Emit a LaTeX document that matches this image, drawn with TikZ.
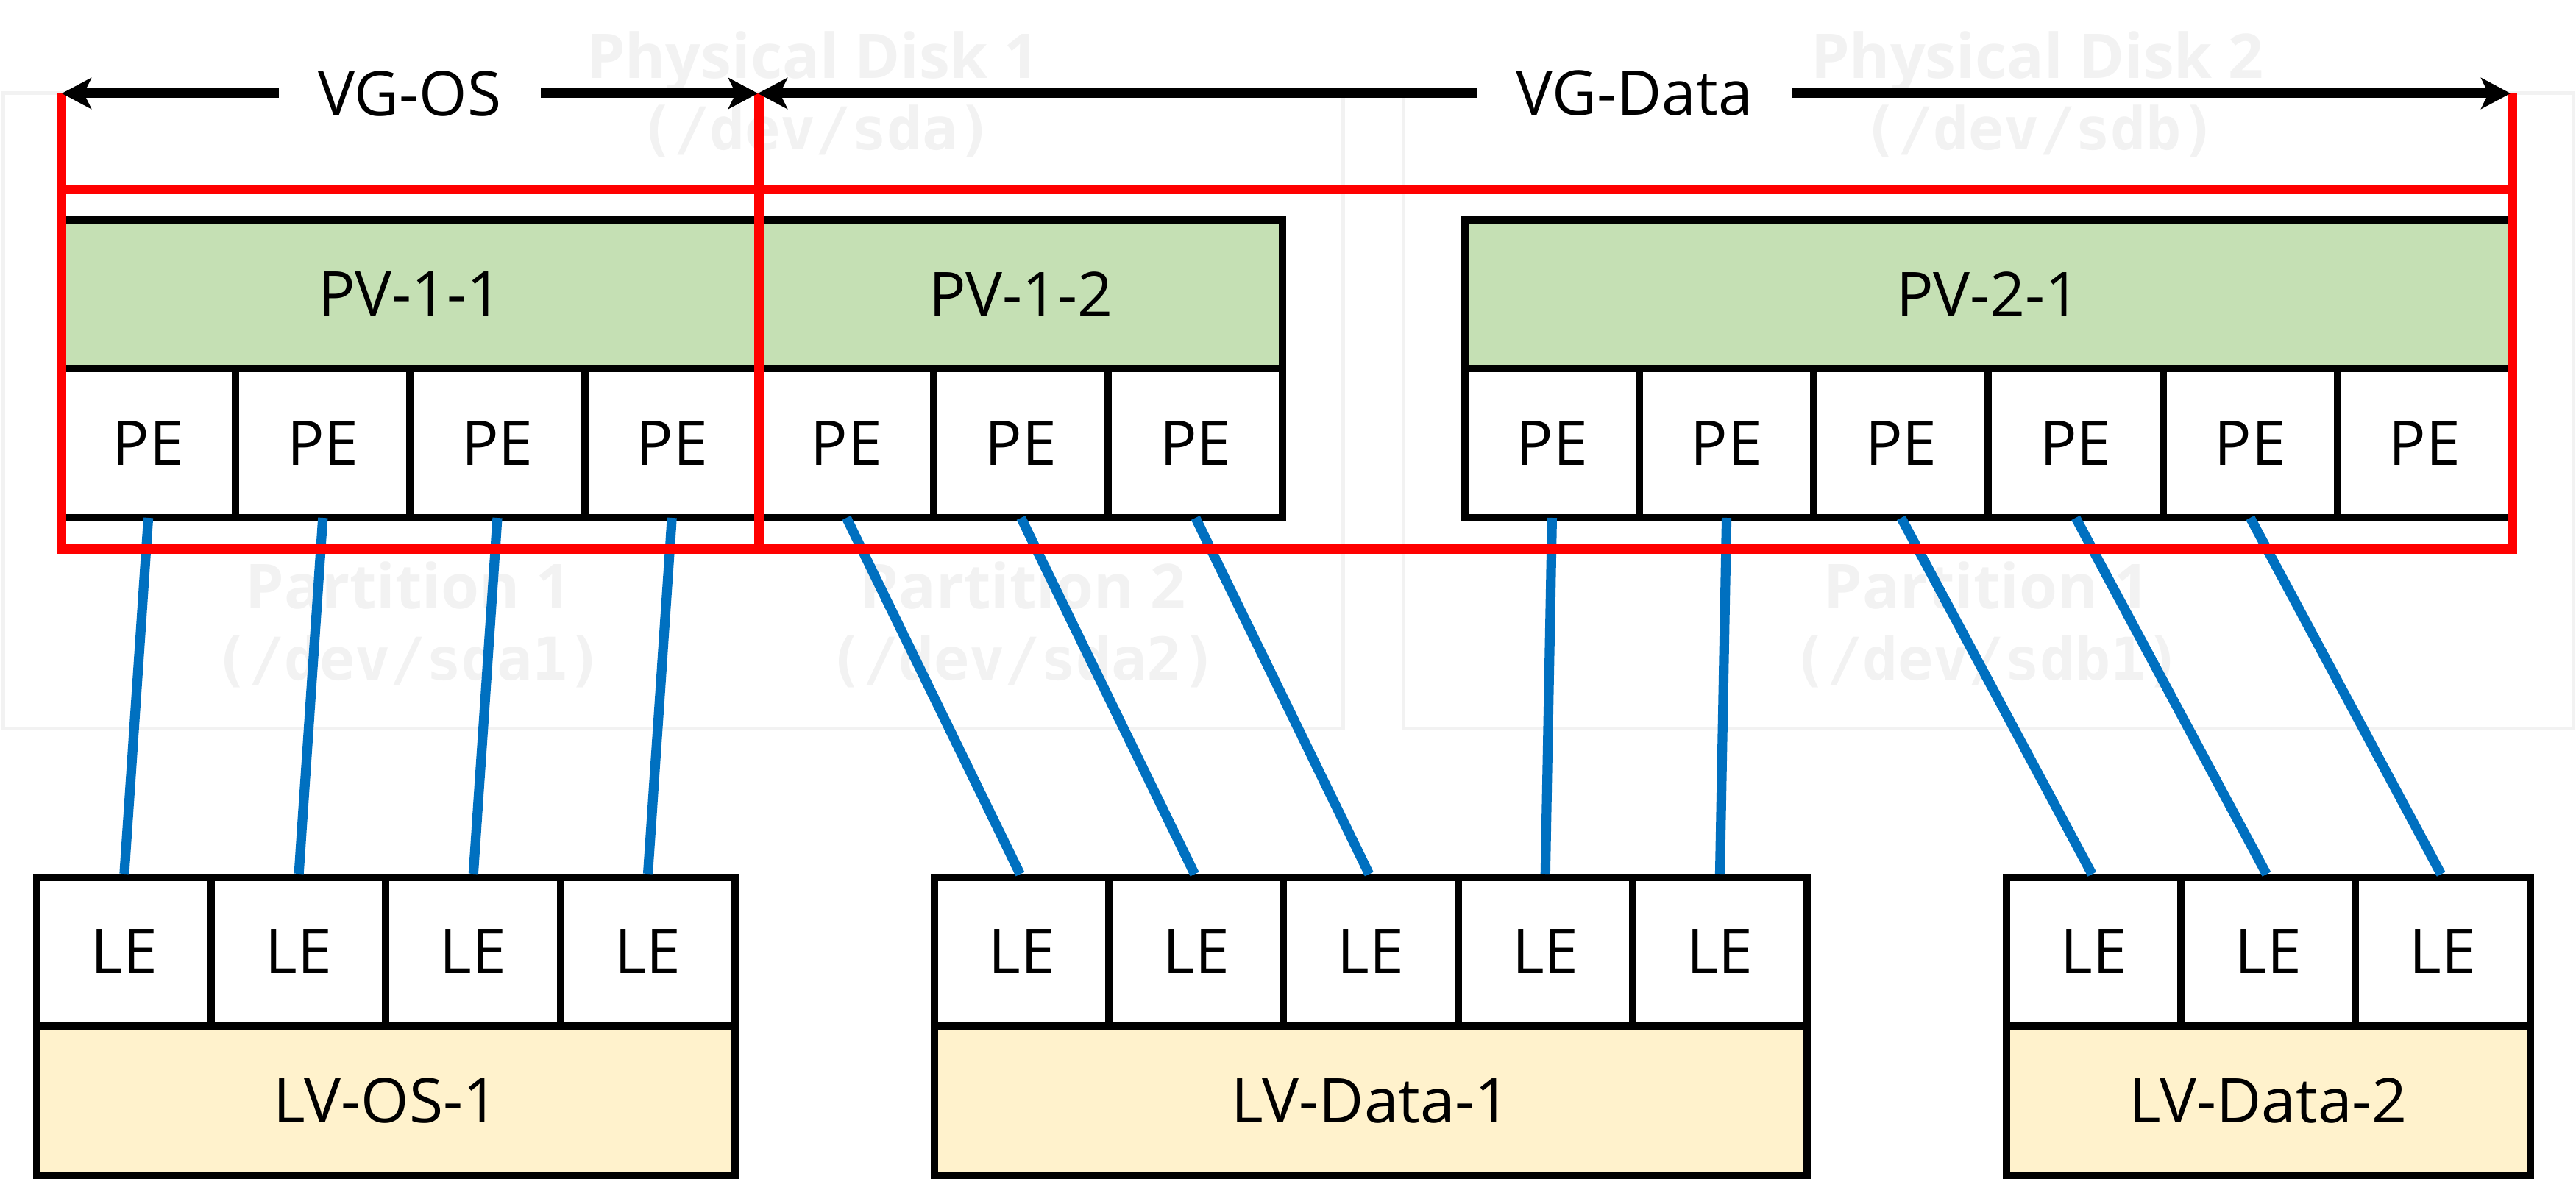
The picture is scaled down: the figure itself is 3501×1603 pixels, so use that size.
\documentclass[tikz,border=0pt]{standalone}
\usepackage{fontspec}
\setmainfont{Open Sans}
\newfontfamily\monof{DejaVu Sans Mono}
\usetikzlibrary{arrows.meta}
\definecolor{pvgreen}{HTML}{C5E0B4}
\definecolor{lvyellow}{HTML}{FFF2CC}
\definecolor{lineblue}{HTML}{0070C0}
\definecolor{vgred}{HTML}{FF0000}
\definecolor{faint}{HTML}{F2F2F2}
\begin{document}
\begin{tikzpicture}[x=0.25pt, y=-0.25pt,
  txt/.style={font=\fontsize{21pt}{25pt}\selectfont},
  cell/.style={txt, draw=black, line width=2.5pt, fill=white, inner sep=0pt, outer sep=0pt,
    minimum width=59.3pt, minimum height=50.6pt},
  pvbox/.style={cell, fill=pvgreen, minimum height=50.5pt},
  lvbox/.style={cell, fill=lvyellow, minimum height=50.75pt},
  diskbox/.style={draw=faint, line width=1.25pt},
  fainttitle/.style={font=\fontsize{21pt}{25pt}\selectfont\bfseries, text=faint, inner sep=0pt, anchor=base},
  faintmono/.style={font=\monof\bfseries\fontsize{20pt}{25pt}\selectfont, text=faint, inner sep=0pt, anchor=base},
  vgline/.style={draw=vgred, line width=3.25pt},
  vgarrow/.style={draw=black, line width=3.25pt, {Stealth[length=10pt, width=10.5pt, inset=2.5pt]}-{Stealth[length=10pt, width=10.5pt, inset=2.5pt]}},
  vglabel/.style={txt, fill=white, inner xsep=13.3pt, inner ysep=2pt},
  peline/.style={draw=lineblue, line width=3.3pt, shorten >=1.25pt}
]
\useasboundingbox (0,0) rectangle (3501,1603);

% background: physical disks and partitions
\draw[diskbox] (4,127) rectangle (1825,990);
\draw[diskbox] (1907,127) rectangle (3497,990);
\node[fainttitle] (d1t) at (1105,107) {Physical Disk 1};
\node[faintmono] (d1d) at (1109,204) {(/dev/sda)};
\node[fainttitle] (d2t) at (2769,107) {Physical Disk 2};
\node[faintmono] (d2d) at (2772,204) {(/dev/sdb)};
\node[fainttitle] (p1t) at (555,828) {Partition 1};
\node[faintmono] (p1d) at (555,925) {(/dev/sda1)};
\node[fainttitle] (p2t) at (1390,828) {Partition 2};
\node[faintmono] (p2d) at (1390,925) {(/dev/sda2)};
\node[fainttitle] (p3t) at (2700,828) {Partition 1};
\node[faintmono] (p3d) at (2700,925) {(/dev/sdb1)};

% physical volumes
\node[pvbox, minimum width=237.2pt] (pv11) at (557.4,400) {PV-1-1};
\node[pvbox, minimum width=177.9pt] (pv12) at (1387.6,400) {PV-1-2};
\node[pvbox, minimum width=355.8pt] (pv21) at (2702.4,400) {PV-2-1};
\foreach \i in {1,...,7}
  \node[cell, minimum height=50.75pt] (pe\i) at ({83+118.6+237.2*(\i-1)},602.5) {PE};
\foreach \i in {1,...,6}{
  \pgfmathtruncatemacro\k{\i+7}
  \node[cell, minimum height=50.75pt] (pe\k) at ({1990.8+118.6+237.2*(\i-1)},602.5) {PE};
}

% logical volumes
\foreach \i in {1,...,4}
  \node[cell, minimum height=50.5pt] (lo\i) at ({50+118.6+237.2*(\i-1)},1294) {LE};
\foreach \i in {1,...,5}
  \node[cell, minimum height=50.5pt] (ld\i) at ({1270+118.6+237.2*(\i-1)},1294) {LE};
\foreach \i in {1,...,3}
  \node[cell, minimum height=50.5pt] (lf\i) at ({2727+118.6+237.2*(\i-1)},1294) {LE};
\node[lvbox, minimum width=237.2pt] (lvos) at (524.4,1496.5) {LV-OS-1};
\node[lvbox, minimum width=296.5pt] (lvd1) at (1863,1496.5) {LV-Data-1};
\node[lvbox, minimum width=177.9pt] (lvd2) at (3082.8,1496.5) {LV-Data-2};

% PE -> LE mappings
\foreach \a/\b in {pe1/lo1, pe2/lo2, pe3/lo3, pe4/lo4, pe5/ld1, pe6/ld2, pe7/ld3,
                   pe8/ld4, pe9/ld5, pe10/lf1, pe11/lf2, pe12/lf3}
  \draw[peline] (\a.south) -- (\b.north);

% volume group frames
\coordinate (rTL) at (83,127);
\coordinate (rBL) at (83,747);
\coordinate (rTR) at (3414,127);
\coordinate (rBR) at (3414,747);
\coordinate (rTM) at (1031,127);
\coordinate (rBM) at (1031,747);
\coordinate (rHL) at (83,258);
\coordinate (rHR) at (3414,258);
\draw[vgline] (rTL) -- (rBL) -- (rBR) -- (rTR);
\draw[vgline] (rHL) -- (rHR);
\draw[vgline] (rTM) -- (rBM);

% volume group extents
\coordinate (osL) at (84,127);
\coordinate (osR) at (1030,127);
\coordinate (dtL) at (1030,127);
\coordinate (dtR) at (3412,127);
\draw[vgarrow] (osL) -- (osR) node[midway, vglabel] (vgos) {VG-OS};
\draw[vgarrow] (dtL) -- (dtR) node[midway, vglabel] (vgdata) {VG-Data};
\end{tikzpicture}
\end{document}
